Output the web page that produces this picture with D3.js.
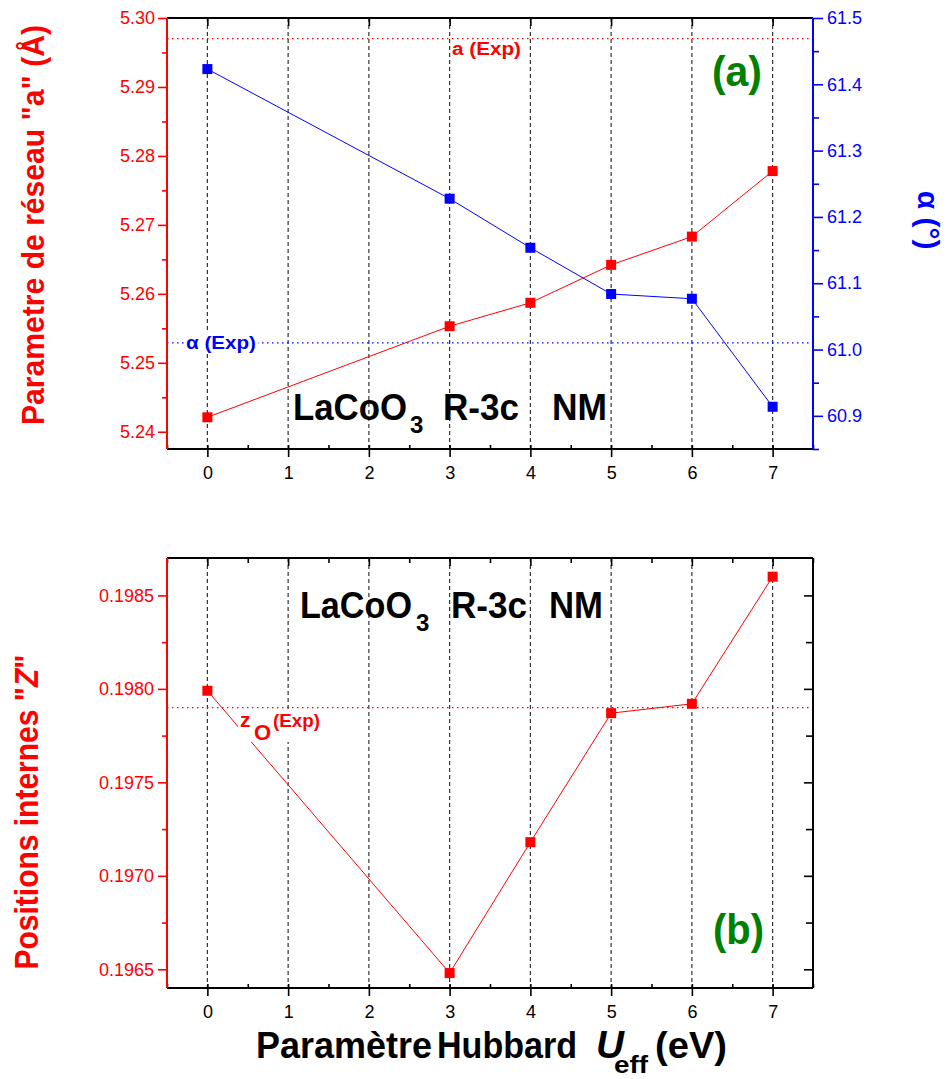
<!DOCTYPE html>
<html lang="fr">
<head>
<meta charset="UTF-8">
<title>LaCoO3 R-3c NM</title>
<style>
    body { margin: 0; background: #fff; }
    svg { display: block; font-family: 'Liberation Sans', Arial, sans-serif; }
    .tick text { font-size: 18px; }
</style>
</head>
<body>
<svg id="chart" width="948" height="1079"></svg>
<script src="https://d3js.org/d3.v7.min.js"></script>
<script>
// Hubbard U_eff values (eV)
const uEff = [0, 3, 4, 5, 6, 7];
// panel (a): lattice parameter a (Å) and rhombohedral angle alpha (°)
const latticeA = [5.2421, 5.2553, 5.2587, 5.2642, 5.2683, 5.2778];
const alphaDeg = [61.423, 61.2275, 61.1535, 61.0837, 61.0766, 60.9137];
// panel (b): internal position z(O)
const zO = [0.19799, 0.19648, 0.19718, 0.19787, 0.19792, 0.19860];
// experimental references
const aExp = 5.297;
const alphaExp = 61.01;
const zExp = 0.19790;
// ticks
const xTicks = [0, 1, 2, 3, 4, 5, 6, 7];
const xMinor = [-0.5, 0.5, 1.5, 2.5, 3.5, 4.5, 5.5, 6.5, 7.5];
const aTicks = [5.24, 5.25, 5.26, 5.27, 5.28, 5.29, 5.30];
const aMinor = [5.245, 5.255, 5.265, 5.275, 5.285, 5.295];
const alphaTicks = [60.9, 61.0, 61.1, 61.2, 61.3, 61.4, 61.5];
const alphaMinor = [60.85, 60.95, 61.05, 61.15, 61.25, 61.35, 61.45];
const zTicks = [0.1965, 0.1970, 0.1975, 0.1980, 0.1985];
const zMinor = [0.19675, 0.19725, 0.19775, 0.19825];

const RED = "#ff0000", BLUE = "#0000ff", GREEN = "#008000";
const svg = d3.select("#chart");

const left = 167, right = 813;
const topA = 18, botA = 449;
const topB = 558, botB = 988;

const x = d3.scaleLinear().domain([-0.5, 7.5]).range([left, right]);
const yA = d3.scaleLinear().domain([5.2375, 5.30]).range([botA, topA]);
const yAlpha = d3.scaleLinear().domain([60.85, 61.5]).range([botA, topA]);
const yZ = d3.scaleLinear().domain([0.1964, 0.1987]).range([botB, topB]);

function grid(top, bot) {
    svg.append("g").selectAll("line").data(xTicks).join("line")
        .attr("x1", d => x(d)).attr("x2", d => x(d))
        .attr("y1", top).attr("y2", bot)
        .attr("stroke", "#333").attr("stroke-width", 1.2)
        .attr("stroke-dasharray", "4,3");
}

function styleAxis(g, color) {
    g.select(".domain").remove();
    g.selectAll(".tick line").attr("stroke", color).attr("stroke-width", 1.6);
    g.selectAll(".tick text").attr("fill", color);
}

function xAxis(bot, top, topMinor) {
    svg.append("g").attr("transform", `translate(0,${bot})`)
        .call(d3.axisBottom(x).tickValues(xTicks).tickFormat(d3.format("d")).tickSize(8).tickPadding(9))
        .call(g => styleAxis(g, "#000"));
    svg.append("g").attr("transform", `translate(0,${bot})`)
        .call(d3.axisBottom(x).tickValues(xTicks).tickFormat("").tickSize(-4))
        .call(g => styleAxis(g, "#000"));
    svg.append("g").attr("transform", `translate(0,${bot})`)
        .call(d3.axisBottom(x).tickValues(xMinor).tickFormat("").tickSize(-4))
        .call(g => styleAxis(g, "#000"));
    svg.append("g").attr("transform", `translate(0,${top})`)
        .call(d3.axisTop(x).tickValues(xTicks).tickFormat("").tickSize(-8))
        .call(g => styleAxis(g, "#000"));
    if (topMinor) {
        svg.append("g").attr("transform", `translate(0,${top})`)
            .call(d3.axisTop(x).tickValues(xMinor).tickFormat("").tickSize(-5))
            .call(g => styleAxis(g, "#000"));
    }
}

function frame(top, bot, cl, cr) {
    const f = svg.append("g").attr("stroke-width", 2);
    f.append("line").attr("x1", left).attr("x2", right).attr("y1", top).attr("y2", top).attr("stroke", "#000");
    f.append("line").attr("x1", left).attr("x2", right).attr("y1", bot).attr("y2", bot).attr("stroke", "#000");
    f.append("line").attr("x1", left).attr("x2", left).attr("y1", top).attr("y2", bot).attr("stroke", cl);
    f.append("line").attr("x1", right).attr("x2", right).attr("y1", top).attr("y2", bot).attr("stroke", cr);
}

function refLine(y, color, dash) {
    svg.append("line").attr("x1", left).attr("x2", right).attr("y1", y).attr("y2", y)
        .attr("stroke", color).attr("stroke-width", 1.2).attr("stroke-dasharray", dash);
}

function series(xs, ys, yScale, color) {
    const pts = xs.map((d, i) => [d, ys[i]]);
    svg.append("path").datum(pts)
        .attr("fill", "none").attr("stroke", color).attr("stroke-width", 1)
        .attr("d", d3.line().x(d => x(d[0])).y(d => yScale(d[1])));
    svg.append("g").selectAll("rect").data(pts).join("rect")
        .attr("x", d => x(d[0]) - 5).attr("y", d => yScale(d[1]) - 5)
        .attr("width", 10).attr("height", 10).attr("fill", color);
}

function label(txt, xp, yp, size, color, opts = {}) {
    const t = svg.append("text").attr("x", xp).attr("y", yp)
        .attr("font-size", size).attr("font-weight", "bold").attr("fill", color).text(txt);
    if (opts.len) t.attr("textLength", opts.len).attr("lengthAdjust", "spacingAndGlyphs");
    if (opts.italic) t.attr("font-style", "italic");
    return t;
}

// ---------- panel (a) ----------
grid(topA, botA);
refLine(yA(aExp), RED, "1.5,3.5");
refLine(yAlpha(alphaExp), BLUE, "1.5,3.5");

svg.append("rect").attr("x", 184).attr("y", yAlpha(alphaExp) - 10).attr("width", 74).attr("height", 20).attr("fill", "#fff");
label("α (Exp)", 186, 349, 19, BLUE, { len: 70 });
label("a (Exp)", 452, 55, 18, RED, { len: 69 });

series(uEff, latticeA, yA, RED);
series(uEff, alphaDeg, yAlpha, BLUE);

svg.append("g").attr("transform", `translate(${left},0)`)
    .call(d3.axisLeft(yA).tickValues(aTicks).tickFormat(d3.format(".2f")).tickSize(9).tickPadding(3))
    .call(g => styleAxis(g, RED));
svg.append("g").attr("transform", `translate(${left},0)`)
    .call(d3.axisLeft(yA).tickValues(aMinor).tickFormat("").tickSize(5))
    .call(g => styleAxis(g, RED));
svg.append("g").attr("transform", `translate(${right},0)`)
    .call(d3.axisRight(yAlpha).tickValues(alphaTicks).tickFormat(d3.format(".1f")).tickSize(10).tickPadding(4))
    .call(g => styleAxis(g, BLUE));
svg.append("g").attr("transform", `translate(${right},0)`)
    .call(d3.axisRight(yAlpha).tickValues(alphaMinor).tickFormat("").tickSize(6))
    .call(g => styleAxis(g, BLUE));
xAxis(botA, topA, false);
frame(topA, botA, RED, BLUE);

label("LaCoO", 293, 420, 37, "#000", { len: 114 });
label("3", 410, 433, 24, "#000");
label("R-3c", 443, 420, 37, "#000", { len: 76 });
label("NM", 552, 420, 37, "#000", { len: 55 });
label("(a)", 712, 86, 42, GREEN, { len: 50 });

svg.append("text").attr("transform", "translate(44,225) rotate(-90)")
    .attr("text-anchor", "middle").attr("font-size", 32).attr("font-weight", "bold").attr("fill", RED)
    .attr("textLength", 400).attr("lengthAdjust", "spacingAndGlyphs")
    .text('Parametre de réseau "a" (Å)');
svg.append("text").attr("transform", "translate(918,220) rotate(90)")
    .attr("text-anchor", "middle").attr("font-size", 30).attr("font-weight", "bold").attr("fill", BLUE)
    .text("α (°)");

// ---------- panel (b) ----------
grid(topB, botB);
refLine(yZ(zExp), RED, "1.5,3.5");
series(uEff, zO, yZ, RED);

svg.append("rect").attr("x", 238).attr("y", 712).attr("width", 84).attr("height", 30).attr("fill", "#fff");
label("z", 240, 727, 21, RED);
label("O", 254, 740, 22, RED);
label("(Exp)", 273, 727, 19, RED, { len: 47 });

svg.append("g").attr("transform", `translate(${left},0)`)
    .call(d3.axisLeft(yZ).tickValues(zTicks).tickFormat(d3.format(".4f")).tickSize(9).tickPadding(4))
    .call(g => styleAxis(g, RED));
svg.append("g").attr("transform", `translate(${left},0)`)
    .call(d3.axisLeft(yZ).tickValues(zMinor).tickFormat("").tickSize(5))
    .call(g => styleAxis(g, RED));
svg.append("g").attr("transform", `translate(${right},0)`)
    .call(d3.axisRight(yZ).tickValues(zTicks).tickFormat("").tickSize(-9))
    .call(g => styleAxis(g, "#000"));
svg.append("g").attr("transform", `translate(${right},0)`)
    .call(d3.axisRight(yZ).tickValues(zMinor).tickFormat("").tickSize(-7))
    .call(g => styleAxis(g, "#000"));
xAxis(botB, topB, true);
frame(topB, botB, RED, "#000");

label("LaCoO", 300, 618, 36, "#000", { len: 112 });
label("3", 416, 631, 24, "#000");
label("R-3c", 451, 618, 36, "#000", { len: 76 });
label("NM", 549, 618, 36, "#000", { len: 54 });
label("(b)", 713, 944, 42, GREEN, { len: 51 });

const zt = svg.append("text").attr("transform", "translate(38,812) rotate(-90)")
    .attr("text-anchor", "middle").attr("font-size", 33).attr("font-weight", "bold").attr("fill", RED)
    .attr("textLength", 315).attr("lengthAdjust", "spacingAndGlyphs");
zt.append("tspan").text('Positions internes "');
zt.append("tspan").attr("font-style", "italic").text("Z");
zt.append("tspan").text('"');

// x axis title
label("Paramètre", 256, 1058, 36, "#000", { len: 176 });
label("Hubbard", 437, 1058, 36, "#000", { len: 140 });
label("U", 596, 1058, 38, "#000", { italic: true, len: 28 });
label("eff", 614, 1073, 24, "#000", { len: 34 });
label("(eV)", 655, 1058, 36, "#000", { len: 72 });
</script>
</body>
</html>
